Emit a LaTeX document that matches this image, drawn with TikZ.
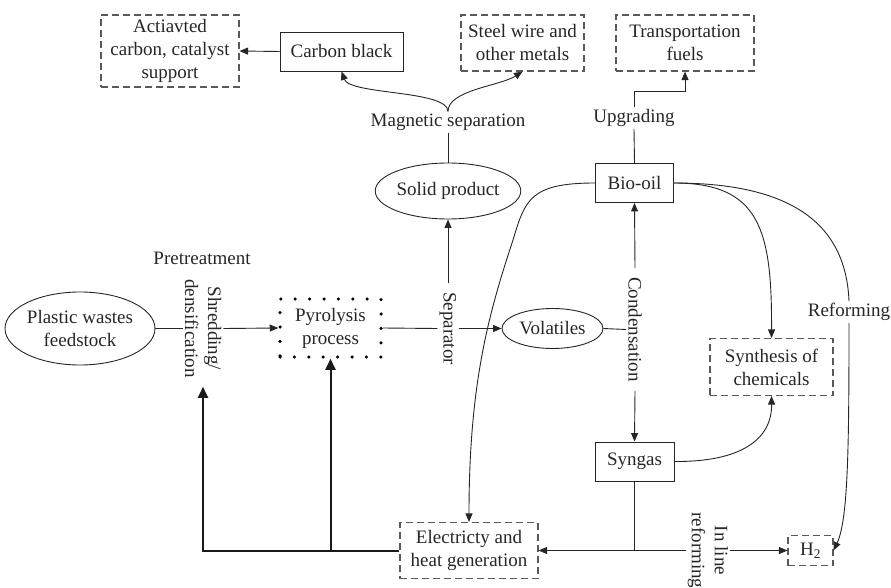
\documentclass[tikz,border=0pt]{standalone}
\usepackage{fontspec}
\setmainfont{Liberation Serif}
\usetikzlibrary{arrows.meta,shapes.geometric,calc}
\begin{document}
\begin{tikzpicture}[x=1pt,y=-1pt,
  font=\fontsize{19}{23}\selectfont,
  every node/.style={text=black!85},
  ln/.style={draw=black!85,line width=0.9pt},
  arr/.style={ln,-{Triangle[length=8.5pt,width=7pt]}},
  thk/.style={draw=black!90,line width=2pt,-{Triangle[length=11pt,width=10pt]}},
  sbox/.style={rectangle,draw=black!85,line width=0.9pt,inner sep=0pt,align=center},
  dbox/.style={rectangle,draw=black!65,line width=1.1pt,dash pattern=on 7pt off 4pt,inner sep=0pt,align=center},
  ell/.style={ellipse,draw=black!85,line width=0.9pt,inner sep=0pt,align=center},
  lbl/.style={inner sep=2pt,align=center},
  vlbl/.style={rotate=-90,inner xsep=9pt,inner ysep=2pt,align=center}]
\useasboundingbox (0,0) rectangle (891,588);
% top boxes
\node[dbox,minimum width=138pt,minimum height=72pt] (ac) at (170,51) {Actiavted\\carbon, catalyst\\support};
\node[sbox,minimum width=123pt,minimum height=39pt] (cb) at (341.5,51.5) {Carbon black};
\node[dbox,minimum width=123pt,minimum height=56pt] (sw) at (522.5,43) {Steel wire and\\other metals};
\node[dbox,minimum width=138pt,minimum height=56pt] (tf) at (685,43) {Transportation\\fuels};
% labels
\node[lbl] (ms) at (448,122) {Magnetic separation};
\node[lbl] (upg) at (634,118) {Upgrading};
\node[lbl] (pre) at (202,258) {Pretreatment};
\node[lbl] (ref) at (849,312) {Reforming};
% middle
\node[ell,minimum width=137pt,minimum height=56pt] (sp) at (448,191) {Solid product};
\node[sbox,minimum width=78pt,minimum height=39pt] (bio) at (634.5,183) {Bio-oil};
\node[ell,minimum width=137pt,minimum height=73pt] (pw) at (80,328.5) {Plastic wastes\\feedstock};
\node[vlbl] (sh) at (203,328.5) {Shredding/\\densification};
\node[rectangle,draw=black,line width=3.5pt,dash pattern=on 0pt off 14.4pt,line cap=round,inner sep=0pt,minimum width=101pt,minimum height=58pt,align=center] (py) at (330.5,328) {Pyrolysis\\process};
\node[vlbl] (sep) at (448,328.5) {Separator};
\node[ell,minimum width=101pt,minimum height=40pt] (vol) at (552.5,328.5) {Volatiles};
\node[vlbl] (cond) at (635,329.5) {Condensation};
\node[dbox,minimum width=123pt,minimum height=57pt] (sc) at (771.5,367) {Synthesis of\\chemicals};
\node[sbox,minimum width=79pt,minimum height=39pt] (syn) at (634.5,461.5) {Syngas};
% bottom
\node[dbox,minimum width=138pt,minimum height=56pt] (el) at (469,550.5) {Electricty and\\heat generation};
\node[vlbl] (ilr) at (708,550.5) {In line\\reforming};
\node[dbox,minimum width=45pt,minimum height=30pt] (h2) at (810.5,550.5) {H\textsubscript{2}};
% connectors top
\draw[arr] (cb.west) -- (ac.east);
\draw[ln] (sp.north) -- (ms.south);
\draw[arr] (ms.north) .. controls (448,90) and (350,95) .. (cb.south);
\draw[arr] (ms.north) .. controls (448,90) and (500,86) .. (sw.south);
\draw[ln] (bio.north) -- (upg.south);
\draw[arr] (upg.north) -- ++(0,-16) -| (tf.south);
% main flow
\draw[ln] (pw.east) -- (sh.south);
\draw[arr] (sh.north) -- (py.west);
\draw[ln] (py.east) -- (sep.south);
\draw[arr] (sep.north) -- (vol.west);
\draw[arr] (sep.west) -- (sp.south);
\draw[ln] (vol.east) -- (cond.south);
\draw[arr] (cond.west) -- (bio.south);
\draw[arr] (cond.east) -- (syn.north);
% bio-oil curves
\draw[arr] (bio.west) .. controls (530,183) and (525,200) .. (513,240) .. controls (490,310) and (469,380) .. (el.north);
\draw[arr] (bio.east) .. controls (760,183) and (772,230) .. (sc.north);
\draw[ln] (bio.east) .. controls (800,183) and (846,230) .. (ref.north);
\draw[arr] (ref.south) .. controls (849,450) and (848,520) .. (h2.east);
\draw[arr] (syn.east) .. controls (740,462) and (772,440) .. (sc.south);
% syngas bottom
\draw[ln] (syn.south) -- (syn.south |- el.east) coordinate (j);
\draw[arr] (j) -- (el.east);
\draw[ln] (j) -- (ilr.south);
\draw[arr] (ilr.north) -- (h2.west);
% thick feedback
\draw[thk] (el.west) -- (sh.east |- el.west) -- (sh.east);
\draw[thk] (py.south |- el.west) -- (py.south);
\end{tikzpicture}
\end{document}
